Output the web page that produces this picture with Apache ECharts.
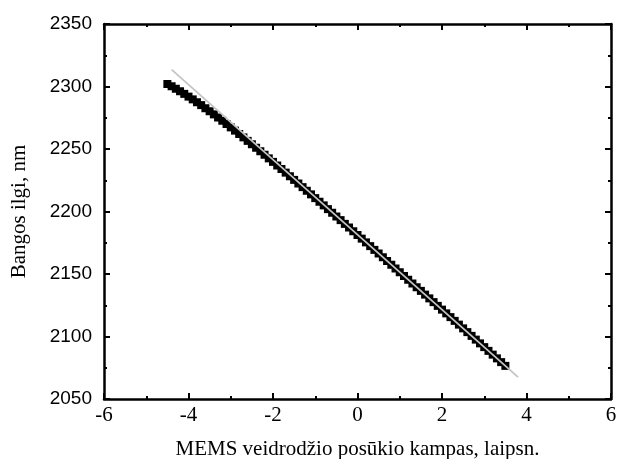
<!DOCTYPE html>
<html>
<head>
<meta charset="utf-8">
<script src="https://cdn.jsdelivr.net/npm/echarts@6/dist/echarts.min.js"></script>
<style>
  html, body { margin: 0; padding: 0; background: #fff; }
  #chart { width: 617px; height: 459px; }
</style>
</head>
<body>
<div id="chart"></div>
<script>
// MEMS veidrodžio kampas (x) ir bangos ilgis (y) - matavimo taškai
const angleX = [
  -4.5, -4.4, -4.3, -4.2, -4.1, -4.0, -3.9, -3.8, -3.7, -3.6,
  -3.5, -3.4, -3.3, -3.2, -3.1, -3.0, -2.9, -2.8, -2.7, -2.6,
  -2.5, -2.4, -2.3, -2.2, -2.1, -2.0, -1.9, -1.8, -1.7, -1.6,
  -1.5, -1.4, -1.3, -1.2, -1.1, -1.0, -0.9, -0.8, -0.7, -0.6,
  -0.5, -0.4, -0.3, -0.2, -0.1, 0.0, 0.1, 0.2, 0.3, 0.4,
  0.5, 0.6, 0.7, 0.8, 0.9, 1.0, 1.1, 1.2, 1.3, 1.4,
  1.5, 1.6, 1.7, 1.8, 1.9, 2.0, 2.1, 2.2, 2.3, 2.4,
  2.5, 2.6, 2.7, 2.8, 2.9, 3.0, 3.1, 3.2, 3.3, 3.4,
  3.5
];
const wavelengthY = [
  2302.0, 2300.2, 2298.2, 2296.2, 2294.1, 2291.9, 2289.7, 2287.4, 2285.1, 2282.6,
  2280.2, 2277.7, 2275.2, 2272.6, 2270.0, 2267.3, 2264.7, 2262.0, 2259.3, 2256.5,
  2253.8, 2251.0, 2248.2, 2245.4, 2242.5, 2239.7, 2236.8, 2234.0, 2231.1, 2228.2,
  2225.3, 2222.4, 2219.5, 2216.6, 2213.7, 2210.7, 2207.8, 2204.9, 2201.9, 2199.0,
  2196.0, 2193.1, 2190.1, 2187.2, 2184.2, 2181.2, 2178.3, 2175.3, 2172.3, 2169.3,
  2166.4, 2163.4, 2160.4, 2157.4, 2154.4, 2151.4, 2148.4, 2145.4, 2142.4, 2139.4,
  2136.5, 2133.5, 2130.5, 2127.5, 2124.5, 2121.5, 2118.5, 2115.5, 2112.5, 2109.5,
  2106.5, 2103.5, 2100.5, 2097.5, 2094.5, 2091.5, 2088.5, 2085.5, 2082.5, 2079.5,
  2076.5
];

// tiesinė aproksimacija (pilka linija)
const fitX = [-4.4, 3.8];
const fitY = [2313.5, 2067.5];

const chart = echarts.init(document.getElementById('chart'));

const axisLine = { show: true, onZero: false, lineStyle: { color: '#000', width: 2.5 } };
const axisTick = { show: true, inside: true, length: 6, lineStyle: { color: '#000', width: 2 } };
const minorTick = { show: true, splitNumber: 2, length: 3, lineStyle: { color: '#000', width: 2 } };

const option = {
  animation: false,
  // outerBoundsMode: 'none' - kad tinklelis nesusitrauktų dėl ašių pavadinimų
  grid: { left: 104, right: 6, top: 24, bottom: 60, outerBoundsMode: 'none', containLabel: false },
  xAxis: [{
    type: 'value',
    min: -6, max: 6, interval: 2,
    name: 'MEMS veidrodžio posūkio kampas, laipsn.',
    nameLocation: 'middle',
    nameGap: 40,
    nameMoveOverlap: false,
    nameTextStyle: { fontFamily: 'Liberation Serif', fontSize: 21, color: '#000' },
    axisLine: axisLine,
    axisTick: axisTick,
    minorTick: minorTick,
    splitLine: { show: false },
    axisLabel: { fontFamily: 'Liberation Serif', fontSize: 21, color: '#000', margin: 6 }
  }, {
    // viršutinė rėmo linija
    type: 'value', position: 'top',
    min: -6, max: 6, interval: 2,
    axisLine: axisLine,
    axisTick: axisTick,
    minorTick: minorTick,
    splitLine: { show: false },
    axisLabel: { show: false }
  }],
  yAxis: [{
    type: 'value',
    min: 2050, max: 2350, interval: 50,
    name: 'Bangos ilgi, nm',
    nameLocation: 'middle',
    nameGap: 74,
    nameMoveOverlap: false,
    nameTextStyle: { fontFamily: 'Liberation Serif', fontSize: 21, color: '#000' },
    axisLine: axisLine,
    axisTick: axisTick,
    minorTick: minorTick,
    splitLine: { show: false },
    axisLabel: {
      fontFamily: 'Liberation Sans', fontSize: 19, color: '#000', margin: 12,
      formatter: v => String(v) // be tūkstančių skirtuko
    }
  }, {
    // dešinė rėmo linija
    type: 'value', position: 'right',
    min: 2050, max: 2350, interval: 50,
    axisLine: axisLine,
    axisTick: axisTick,
    minorTick: minorTick,
    splitLine: { show: false },
    axisLabel: { show: false }
  }],
  series: [{
    name: 'matavimai',
    type: 'scatter',
    symbol: 'rect',
    symbolSize: 8,
    itemStyle: { color: '#000', opacity: 1 },
    data: angleX.map((x, i) => [x, wavelengthY[i]]),
    z: 2
  }, {
    name: 'aproksimacija',
    type: 'line',
    symbol: 'none',
    lineStyle: { color: '#c4c4c4', width: 1.8 },
    data: fitX.map((x, i) => [x, fitY[i]]),
    z: 3
  }]
};

chart.setOption(option);
</script>
</body>
</html>
